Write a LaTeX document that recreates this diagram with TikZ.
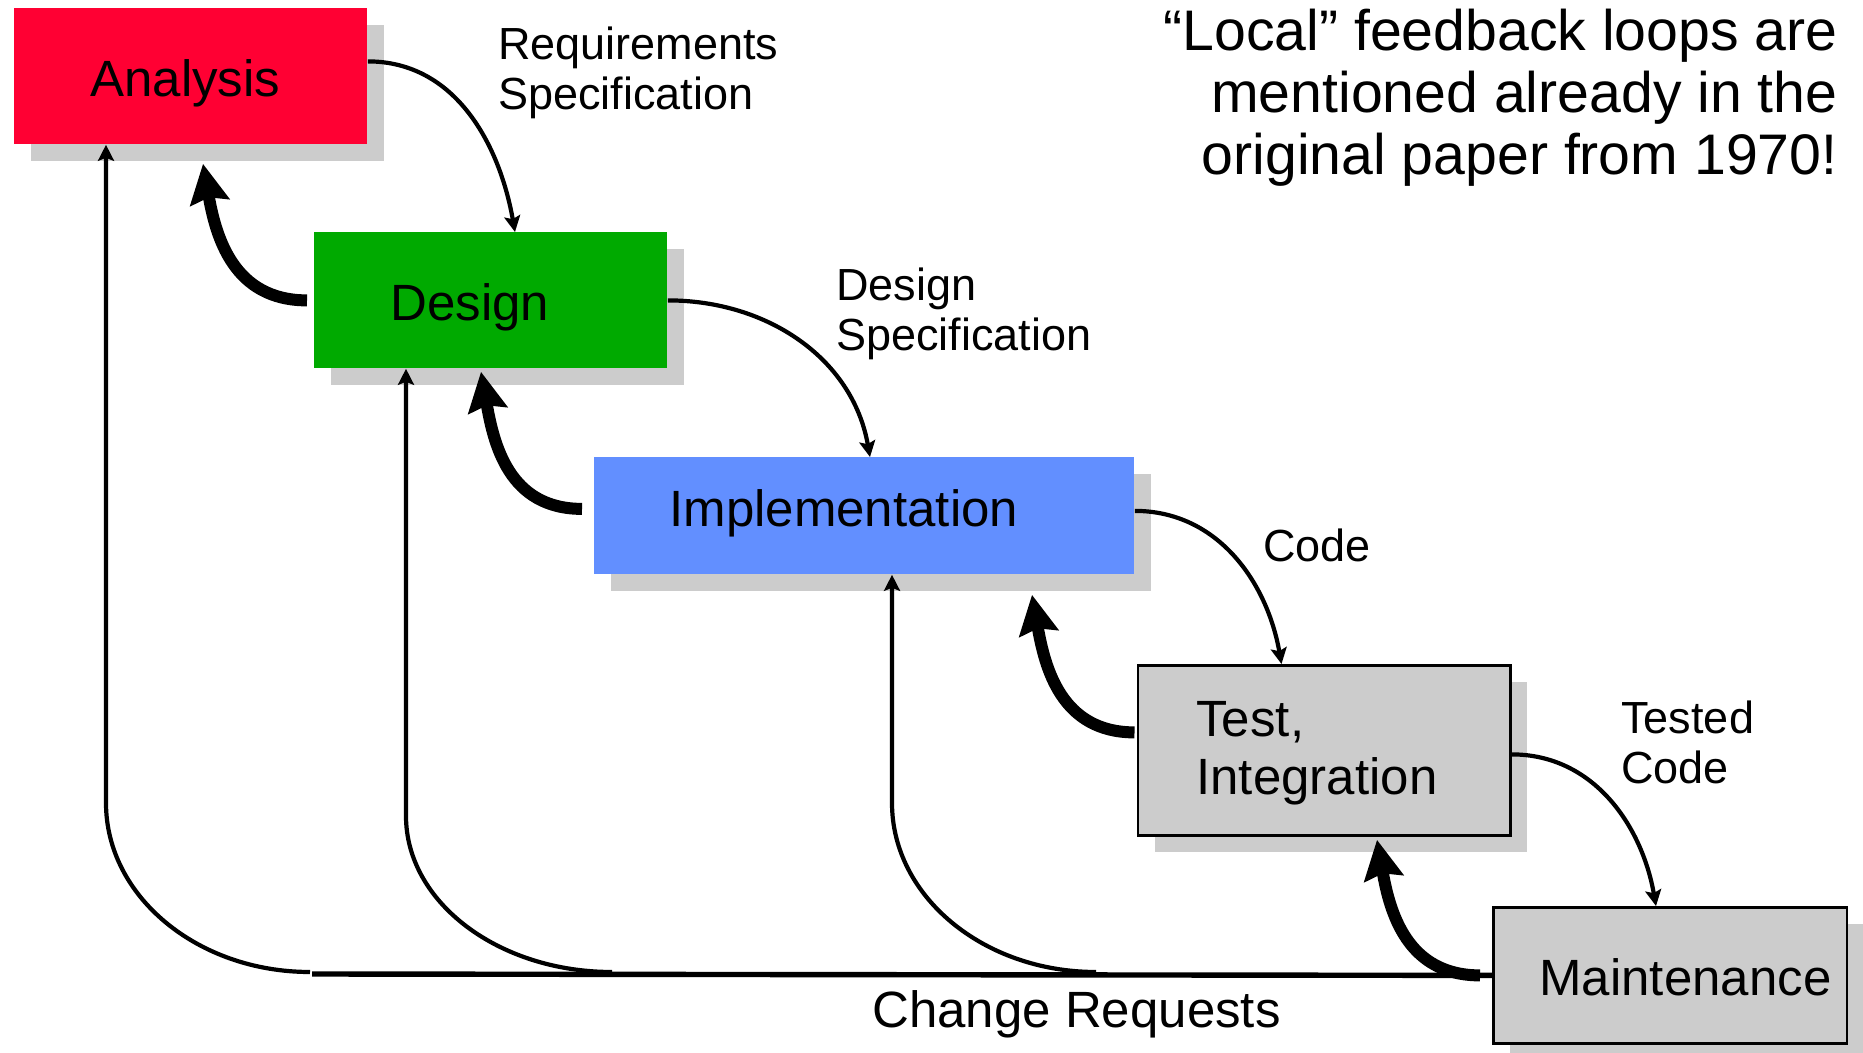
\documentclass[tikz,border=0pt]{standalone}
\usepackage{fontspec}
\setmainfont{Liberation Sans}
\usetikzlibrary{arrows.meta,shadows,calc}
\definecolor{anared}{RGB}{255,0,51}
\definecolor{desgreen}{RGB}{0,170,0}
\definecolor{impblue}{RGB}{98,143,255}
\definecolor{shgray}{RGB}{204,204,204}
\newdimen\upx \upx=0.5pt
\begin{document}
\begin{tikzpicture}[x=0.5pt,y=0.5pt,
  box/.style={rectangle, anchor=north west, inner ysep=0pt, text depth=0pt,
    text height=40\upx, align=left,
    font=\fontsize{25.5pt}{29pt}\selectfont,
    drop shadow={shadow xshift=17\upx, shadow yshift=-17\upx, fill=shgray, opacity=1}},
  thinarr/.style={line width=2.1pt, -{Stealth[length=8pt,width=8pt,inset=1.5pt]}},
  fbarr/.style={line width=6pt, -{Stealth[length=19.5pt,width=19.5pt,inset=2.5pt]}},
  crline/.style={line width=2.7pt},
  lbl/.style={inner sep=0pt, align=left, anchor=base west,
    font=\fontsize{22.5pt}{25pt}\selectfont},
]
\useasboundingbox (0,0) rectangle (1863,-1053);

% boxes
\node[box, fill=anared, minimum height=136\upx, inner xsep=76\upx, text width=201\upx]
  (analysis) at (14,-8) {Analysis};
\node[box, fill=desgreen, minimum height=136\upx, inner xsep=76\upx, text width=201\upx]
  (design) at (314,-232) {Design};
\node[box, fill=impblue, minimum height=117\upx, inner xsep=75\upx, text width=390\upx,
  text height=22\upx] (impl) at (594,-457) {Implementation};
\node[box, fill=shgray, draw=black, line width=1.4pt, minimum height=170\upx,
  inner xsep=58.5\upx, text width=255.5\upx, text height=30\upx, text depth=58\upx]
  (test) at (1136.5,-664) {Test,\\Integration};
\node[box, fill=shgray, draw=black, line width=1.4pt, minimum height=136\upx,
  inner xsep=15.5\upx, text width=322.5\upx, align=right]
  (maint) at (1492,-906) {Maintenance};

% forward arrows
\draw[thinarr] ([yshift=15\upx]analysis.east) to[out=0,in=100] ($(design.north west)+(201,0)$);
\draw[thinarr] (design.east) to[out=0,in=100] ($(impl.north west)+(276,0)$);
\draw[thinarr] ([yshift=5\upx]impl.east) to[out=0,in=100] ($(test.north west)+(145,0)$);
\draw[thinarr] ([yshift=-4\upx]test.east) to[out=0,in=100] ($(maint.north west)+(164,0)$);

% local feedback arrows
\draw[fbarr] ([xshift=-7\upx]design.west) to[out=180,in=-80,looseness=1.1] ($(analysis.south west)+(189,-19)$);
\draw[fbarr] ([xshift=-12\upx,yshift=7\upx]impl.west) to[out=180,in=-80,looseness=1.1] ($(design.south west)+(167,-3)$);
\draw[fbarr] ([xshift=-2\upx,yshift=18\upx]test.west) to[out=180,in=-80,looseness=1.1] ($(impl.south west)+(438,-20)$);
\draw[fbarr] ([xshift=-12\upx]maint.west) to[out=180,in=-80,looseness=1.1] ($(test.south west)+(240.5,-3)$);

% change requests
\coordinate (crL) at (312,-974);
\draw[crline] (crL) -- (maint.west);
\coordinate (fbA) at (310,-972);
\coordinate (upA) at (106,-803);
\coordinate (fbD) at (612,-972);
\coordinate (upD) at (406,-816);
\coordinate (fbI) at (1096,-972);
\coordinate (upI) at (892,-803);
\draw[thinarr] (fbA) .. controls +(-112.6,0) and +(0,-93.3) .. (upA) -- (upA |- analysis.south);
\draw[thinarr] (fbD) .. controls +(-113.7,0) and +(0,-86.1) .. (upD) -- (upD |- design.south);
\draw[thinarr] (fbI) .. controls +(-112.6,0) and +(0,-93.3) .. (upI) -- (upI |- impl.south);

% labels (base anchor = last line)
\node[lbl] (lreq) at (498,-110) {Requirements\\Specification};
\node[lbl] (ldes) at (836,-351) {Design\\Specification};
\node[lbl] (lcode) at (1263,-561) {Code};
\node[lbl] (ltest) at (1621,-783) {Tested\\Code};
\node[lbl, font=\fontsize{25.5pt}{29pt}\selectfont] (lcr) at (872,-1027) {Change Requests};
\node[inner sep=0pt, align=right, anchor=base east,
  font=\fontsize{28.6pt}{31pt}\selectfont] (note) at (1838,-175)
  {“Local” feedback loops are\\mentioned already in the\\original paper from 1970!};
\end{tikzpicture}
\end{document}
